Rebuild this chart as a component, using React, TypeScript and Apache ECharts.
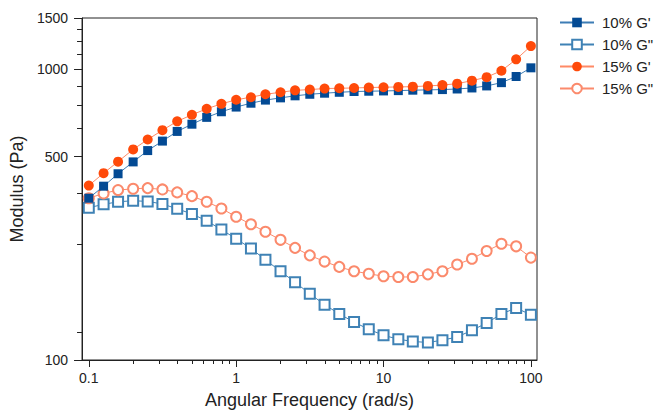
import React, { useEffect, useRef } from "react";
import * as echarts from "echarts";

const freq = [0.1, 0.126, 0.158, 0.2, 0.251, 0.316, 0.398, 0.501, 0.631, 0.794, 1, 1.26, 1.58, 2, 2.51, 3.16, 3.98, 5.01, 6.31, 7.94, 10, 12.6, 15.8, 20, 25.1, 31.6, 39.8, 50.1, 63.1, 79.4, 100];

const g10p = [360, 396, 437, 480, 525, 566, 611, 647, 683, 714, 741, 764, 783, 797, 810, 820, 827, 833, 838, 840, 842, 844, 847, 849, 851, 855, 862, 876, 899, 944, 1011];
const g10pp = [334, 343, 350, 353, 351, 344, 331, 318, 301, 281, 261, 242, 221, 202, 185, 169, 155, 144, 135, 127.5, 121.6, 117.9, 115.8, 114.9, 117, 120, 126.5, 134, 144, 151, 143];
const g15p = [398, 439, 481, 530, 573, 617, 662, 697, 731, 760, 785, 801, 820, 833, 846, 851, 858, 860, 862, 865, 867, 869, 871, 876, 882, 892, 913, 939, 988, 1081, 1201];
const g15pp = [360, 374, 384, 388, 390, 386, 377, 366, 350, 332, 311, 293, 276, 259, 243, 229, 218, 209, 202, 198, 194, 193, 193, 197, 202, 213, 223, 237, 251, 246, 225];

const xMajor = [0.1, 1, 10, 100];
const xMinor = [0.2, 0.3, 0.4, 0.5, 0.6, 0.7, 0.8, 0.9, 2, 3, 4, 5, 6, 7, 8, 9, 20, 30, 40, 50, 60, 70, 80, 90];
const yMajor = [100, 500, 1000, 1500];
const yMinor = [125, 250, 375, 625, 750, 875, 1125, 1250, 1375];

const X_MIN = 0.09;
const X_MAX = 110;
const Y_MIN = 100;
const Y_MAX = 1500;

const FONT = "'Liberation Sans', Arial, sans-serif";
const AX = "#222";

export default function App() {
  const ref = useRef<HTMLDivElement>(null);
  useEffect(() => {
    document.body.style.margin = "0";
    const chart = echarts.init(ref.current!, null, { renderer: "svg" });
    const L = Math.log10;
    const fmt = (v: number) => {
      const r = Math.pow(10, v);
      return String(Math.round(r * 1000) / 1000);
    };
    const mk = (arr: number[]) => freq.map((f, i) => [f, arr[i]]);
    const hidden = { show: false };
    chart.setOption({
      animation: false,
      textStyle: { fontFamily: FONT },
      grid: { left: 79, right: 118, top: 18, bottom: 52, show: true, borderColor: AX, borderWidth: 1 },
      legend: {
        orient: "vertical",
        left: 559,
        top: 15,
        padding: 0,
        itemWidth: 34,
        itemHeight: 12,
        itemGap: 7,
        textStyle: { fontSize: 15, color: AX, fontFamily: FONT, padding: [0, 0, 0, 3] },
        data: ["10% G'", '10% G"', "15% G'", '15% G"'],
      },
      xAxis: [
        {
          type: "log", logBase: 10, min: X_MIN, max: X_MAX, position: "bottom",
          axisLine: { show: true, onZero: false, lineStyle: { color: AX, width: 1 } },
          axisTick: hidden, axisLabel: hidden, splitLine: hidden, minorTick: hidden, minorSplitLine: hidden,
        },
        {
          type: "value", min: L(X_MIN), max: L(X_MAX), position: "bottom",
          axisLine: { show: false, onZero: false },
          axisTick: { show: true, customValues: xMajor.map(L), length: 7, lineStyle: { color: AX } },
          axisLabel: { show: true, customValues: xMajor.map(L), formatter: fmt, fontSize: 14, color: AX, margin: 11, fontFamily: FONT },
          splitLine: hidden,
          name: "Angular Frequency (rad/s)", nameLocation: "middle", nameGap: 31,
          nameTextStyle: { fontSize: 18, color: AX, fontFamily: FONT },
        },
        {
          type: "value", min: L(X_MIN), max: L(X_MAX), position: "bottom",
          axisLine: { show: false, onZero: false },
          axisTick: { show: true, customValues: xMinor.map(L), length: 4, lineStyle: { color: AX } },
          axisLabel: hidden, splitLine: hidden,
        },
      ],
      yAxis: [
        {
          type: "log", logBase: 10, min: Y_MIN, max: Y_MAX, position: "left",
          axisLine: { show: true, onZero: false, lineStyle: { color: AX, width: 1 } },
          axisTick: hidden, axisLabel: hidden, splitLine: hidden, minorTick: hidden, minorSplitLine: hidden,
        },
        {
          type: "value", min: L(Y_MIN), max: L(Y_MAX), position: "left",
          axisLine: { show: false, onZero: false },
          axisTick: { show: true, customValues: yMajor.map(L), length: 8, lineStyle: { color: AX } },
          axisLabel: { show: true, customValues: yMajor.map(L), formatter: fmt, fontSize: 14, color: AX, margin: 14, fontFamily: FONT },
          splitLine: hidden,
          name: "Modulus (Pa)", nameLocation: "middle", nameGap: 49,
          nameTextStyle: { fontSize: 18, color: AX, fontFamily: FONT },
        },
        {
          type: "value", min: L(Y_MIN), max: L(Y_MAX), position: "left",
          axisLine: { show: false, onZero: false },
          axisTick: { show: true, customValues: yMinor.map(L), length: 5, lineStyle: { color: AX } },
          axisLabel: hidden, splitLine: hidden,
        },
      ],
      series: [
        {
          name: "10% G'", type: "line", data: mk(g10p), xAxisIndex: 0, yAxisIndex: 0, z: 4,
          symbol: "rect", symbolSize: 9,
          itemStyle: { color: "#034a94" },
          lineStyle: { color: "#3d7db5", width: 1 },
        },
        {
          name: '10% G"', type: "line", data: mk(g10pp), xAxisIndex: 0, yAxisIndex: 0, z: 2,
          symbol: "emptyRect", symbolSize: 10,
          itemStyle: { color: "#3f82b5", borderWidth: 1 },
          lineStyle: { color: "#3f82b5", width: 1 },
        },
        {
          name: "15% G'", type: "line", data: mk(g15p), xAxisIndex: 0, yAxisIndex: 0, z: 4,
          symbol: "circle", symbolSize: 10,
          itemStyle: { color: "#ff4a0a" },
          lineStyle: { color: "#ff8a66", width: 1 },
        },
        {
          name: '15% G"', type: "line", data: mk(g15pp), xAxisIndex: 0, yAxisIndex: 0, z: 2,
          symbol: "emptyCircle", symbolSize: 10,
          itemStyle: { color: "#fb8a6c", borderWidth: 1 },
          lineStyle: { color: "#fb8a6c", width: 1 },
        },
      ],
    });
    return () => chart.dispose();
  }, []);
  return <div ref={ref} style={{ width: 655, height: 414 }} />;
}
